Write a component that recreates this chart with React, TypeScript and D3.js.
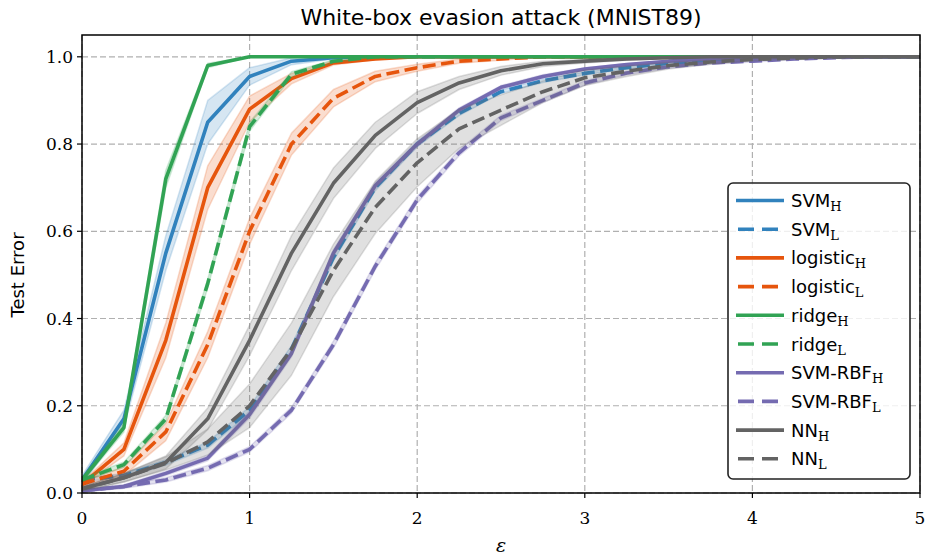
import React from 'react';
import * as d3 from 'd3';

// epsilon values (x axis)
const EPS = [0, 0.25, 0.5, 0.75, 1, 1.25, 1.5, 1.75, 2, 2.25, 2.5, 2.75, 3, 3.25, 3.5, 3.75, 4, 4.25, 4.5, 4.75, 5];

// mean test error per classifier
const svmH = [0.03, 0.17, 0.55, 0.85, 0.955, 0.99, 0.998, 1, 1, 1, 1, 1, 1, 1, 1, 1, 1, 1, 1, 1, 1];
const svmL = [0.03, 0.04, 0.07, 0.11, 0.19, 0.33, 0.54, 0.7, 0.8, 0.87, 0.92, 0.945, 0.962, 0.975, 0.985, 0.99, 0.995, 0.998, 1, 1, 1];
const logH = [0.02, 0.1, 0.35, 0.7, 0.88, 0.95, 0.986, 0.995, 1, 1, 1, 1, 1, 1, 1, 1, 1, 1, 1, 1, 1];
const logL = [0.02, 0.05, 0.14, 0.34, 0.6, 0.8, 0.905, 0.955, 0.975, 0.99, 0.995, 1, 1, 1, 1, 1, 1, 1, 1, 1, 1];
const ridgeH = [0.03, 0.15, 0.72, 0.98, 1, 1, 1, 1, 1, 1, 1, 1, 1, 1, 1, 1, 1, 1, 1, 1, 1];
const ridgeL = [0.03, 0.065, 0.17, 0.48, 0.84, 0.96, 0.99, 1, 1, 1, 1, 1, 1, 1, 1, 1, 1, 1, 1, 1, 1];
const rbfH = [0.005, 0.015, 0.045, 0.08, 0.18, 0.32, 0.55, 0.705, 0.8, 0.878, 0.93, 0.955, 0.972, 0.982, 0.99, 0.995, 0.998, 1, 1, 1, 1];
const rbfL = [0.005, 0.015, 0.03, 0.057, 0.1, 0.19, 0.34, 0.52, 0.672, 0.78, 0.86, 0.9, 0.94, 0.963, 0.977, 0.986, 0.99, 0.995, 0.998, 1, 1];
const nnH = [0.01, 0.035, 0.07, 0.17, 0.35, 0.55, 0.71, 0.82, 0.895, 0.94, 0.968, 0.984, 0.99, 0.995, 0.998, 1, 1, 1, 1, 1, 1];
const nnL = [0.01, 0.035, 0.068, 0.117, 0.2, 0.33, 0.51, 0.655, 0.757, 0.835, 0.878, 0.92, 0.952, 0.967, 0.98, 0.988, 0.994, 0.997, 1, 1, 1];

// std (shaded band half-width)
const svmHs = [0.01, 0.02, 0.04, 0.05, 0.02, 0.008, 0.003, 0, 0, 0, 0, 0, 0, 0, 0, 0, 0, 0, 0, 0, 0];
const svmLs = [0.004, 0.005, 0.006, 0.007, 0.008, 0.008, 0.008, 0.007, 0.006, 0.005, 0.004, 0.004, 0.003, 0.003, 0.002, 0.002, 0.001, 0.001, 0, 0, 0];
const logHs = [0.005, 0.015, 0.04, 0.05, 0.03, 0.012, 0.005, 0.002, 0, 0, 0, 0, 0, 0, 0, 0, 0, 0, 0, 0, 0];
const logLs = [0.005, 0.01, 0.02, 0.03, 0.03, 0.025, 0.02, 0.012, 0.008, 0.005, 0.003, 0, 0, 0, 0, 0, 0, 0, 0, 0, 0];
const ridgeHs = [0.005, 0.01, 0.02, 0.005, 0, 0, 0, 0, 0, 0, 0, 0, 0, 0, 0, 0, 0, 0, 0, 0, 0];
const ridgeLs = [0.004, 0.006, 0.008, 0.01, 0.01, 0.006, 0.003, 0, 0, 0, 0, 0, 0, 0, 0, 0, 0, 0, 0, 0, 0];
const rbfHs = [0.002, 0.004, 0.005, 0.006, 0.008, 0.008, 0.008, 0.007, 0.006, 0.005, 0.004, 0.004, 0.003, 0.002, 0.002, 0.001, 0.001, 0, 0, 0, 0];
const rbfLs = [0.002, 0.004, 0.005, 0.006, 0.006, 0.007, 0.008, 0.008, 0.008, 0.007, 0.006, 0.005, 0.005, 0.004, 0.003, 0.003, 0.002, 0.002, 0.001, 0, 0];
const nnHs = [0.005, 0.01, 0.015, 0.025, 0.035, 0.04, 0.035, 0.03, 0.025, 0.015, 0.01, 0.006, 0.004, 0.003, 0.002, 0, 0, 0, 0, 0, 0];
const nnLs = [0.005, 0.01, 0.015, 0.03, 0.05, 0.06, 0.06, 0.06, 0.055, 0.045, 0.035, 0.025, 0.018, 0.012, 0.008, 0.005, 0.003, 0.002, 0, 0, 0];

const xTicks = [0, 1, 2, 3, 4, 5];
const yTicks = [0, 0.2, 0.4, 0.6, 0.8, 1.0];

const BLUE = '#3182bd';
const ORANGE = '#e6550d';
const GREEN = '#31a354';
const PURPLE = '#756bb1';
const GRAY = '#636363';

const series = [
  { name: 'SVM', sub: 'H', color: BLUE, dashed: false, mean: svmH, std: svmHs },
  { name: 'SVM', sub: 'L', color: BLUE, dashed: true, mean: svmL, std: svmLs },
  { name: 'logistic', sub: 'H', color: ORANGE, dashed: false, mean: logH, std: logHs },
  { name: 'logistic', sub: 'L', color: ORANGE, dashed: true, mean: logL, std: logLs },
  { name: 'ridge', sub: 'H', color: GREEN, dashed: false, mean: ridgeH, std: ridgeHs },
  { name: 'ridge', sub: 'L', color: GREEN, dashed: true, mean: ridgeL, std: ridgeLs },
  { name: 'SVM-RBF', sub: 'H', color: PURPLE, dashed: false, mean: rbfH, std: rbfHs },
  { name: 'SVM-RBF', sub: 'L', color: PURPLE, dashed: true, mean: rbfL, std: rbfLs },
  { name: 'NN', sub: 'H', color: GRAY, dashed: false, mean: nnH, std: nnHs },
  { name: 'NN', sub: 'L', color: GRAY, dashed: true, mean: nnL, std: nnLs },
];

const W = 925;
const H = 559;
const LEFT = 82;
const RIGHT = 920;
const TOP = 35;
const BOTTOM = 493;
const SANS = 'DejaVu Sans, sans-serif';
const SERIF = 'DejaVu Serif, serif';
const LW = 3.6;
const DASH = '13,5.5';

export default function App() {
  const x = d3.scaleLinear().domain([0, 5]).range([LEFT, RIGHT]);
  const y = d3.scaleLinear().domain([0, 1.05]).range([BOTTOM, TOP]);

  const line = d3.line<number>().x((_, i) => x(EPS[i])).y(d => y(d));

  const legX = 728;
  const legY = 183;
  const legW = 182;
  const legH = 296;
  const rowH = 28.7;

  return (
    <div style={{ position: 'absolute', left: 0, top: 0 }}>
      <svg width={W} height={H} style={{ display: 'block', background: '#fff' }}>
        <defs>
          <clipPath id="plot">
            <rect x={LEFT} y={TOP} width={RIGHT - LEFT} height={BOTTOM - TOP} />
          </clipPath>
        </defs>

        {/* grid */}
        <g stroke="#b0b0b0" strokeWidth={1.2} strokeDasharray="6,3">
          {xTicks.map(t => (
            <line key={'gx' + t} x1={x(t)} x2={x(t)} y1={TOP} y2={BOTTOM} />
          ))}
          {yTicks.map(t => (
            <line key={'gy' + t} x1={LEFT} x2={RIGHT} y1={y(t)} y2={y(t)} />
          ))}
        </g>

        {/* bands and lines */}
        <g clipPath="url(#plot)">
          {series.map((s, k) => {
            const area = d3
              .area<number>()
              .x((_, i) => x(EPS[i]))
              .y0((d, i) => y(d - s.std[i]))
              .y1((d, i) => y(d + s.std[i]));
            return (
              <g key={k}>
                <path d={area(s.mean) || ''} fill={s.color} fillOpacity={0.2} stroke={s.color} strokeOpacity={0.2} strokeWidth={1.5} strokeLinejoin="round" />
                <path
                  d={line(s.mean) || ''}
                  fill="none"
                  stroke={s.color}
                  strokeWidth={LW}
                  strokeDasharray={s.dashed ? DASH : undefined}
                  strokeLinejoin="round"
                />
              </g>
            );
          })}
        </g>

        {/* frame */}
        <rect x={LEFT} y={TOP} width={RIGHT - LEFT} height={BOTTOM - TOP} fill="none" stroke="#000" strokeWidth={1.5} />

        {/* ticks */}
        <g stroke="#000" strokeWidth={1.2}>
          {xTicks.map(t => (
            <line key={'tx' + t} x1={x(t)} x2={x(t)} y1={BOTTOM} y2={BOTTOM + 5} />
          ))}
          {yTicks.map(t => (
            <line key={'ty' + t} x1={LEFT - 5} x2={LEFT} y1={y(t)} y2={y(t)} />
          ))}
        </g>
        <g fontFamily={SERIF} fontSize={17} fill="#000">
          {xTicks.map(t => (
            <text key={'lx' + t} x={x(t)} y={BOTTOM + 31} textAnchor="middle">
              {t}
            </text>
          ))}
          {yTicks.map(t => (
            <text key={'ly' + t} x={LEFT - 9} y={y(t) + 6} textAnchor="end">
              {t.toFixed(1)}
            </text>
          ))}
        </g>

        {/* labels */}
        <text x={(LEFT + RIGHT) / 2} y={25} textAnchor="middle" fontFamily={SANS} fontSize={22}>
          White-box evasion attack (MNIST89)
        </text>
        <text
          transform={`translate(24, ${(TOP + BOTTOM) / 2 + 11}) rotate(-90)`}
          textAnchor="middle"
          fontFamily={SANS}
          fontSize={18}
        >
          Test Error
        </text>
        <text x={(LEFT + RIGHT) / 2} y={552} textAnchor="middle" fontFamily={SERIF} fontStyle="italic" fontSize={19}>
          ε
        </text>

        {/* legend */}
        <rect x={legX} y={legY} width={legW} height={legH} rx={5} fill="#fff" fillOpacity={0.8} stroke="#222" strokeWidth={1.6} />
        {series.map((s, k) => {
          const cy = legY + 17.5 + k * rowH;
          return (
            <g key={'leg' + k}>
              <line
                x1={legX + 8}
                x2={legX + 56}
                y1={cy}
                y2={cy}
                stroke={s.color}
                strokeWidth={LW}
                strokeDasharray={s.dashed ? '16,8' : undefined}
                strokeDashoffset={s.dashed ? -2 : 0}
              />
              <text x={legX + 63} y={cy + 6.5} fontFamily={SANS} fontSize={18}>
                {s.name}
                <tspan fontFamily={SERIF} fontSize={13} dy={4}>
                  {s.sub}
                </tspan>
              </text>
            </g>
          );
        })}
      </svg>
    </div>
  );
}
